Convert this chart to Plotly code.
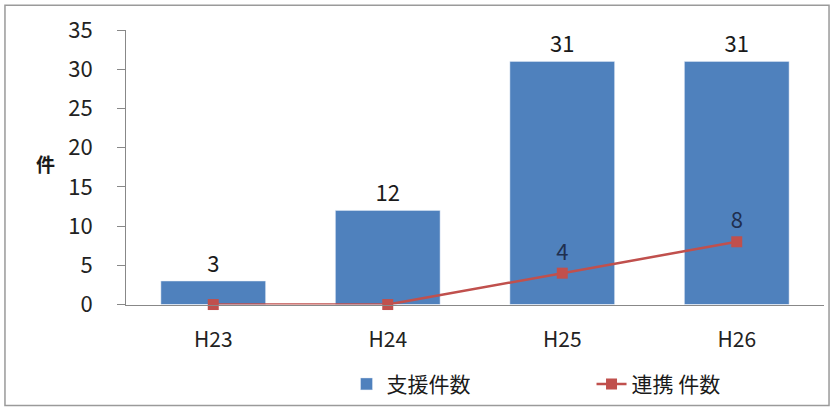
import plotly.graph_objects as go

categories = ["H23", "H24", "H25", "H26"]
support_counts = [3, 12, 31, 31]
link_counts = [0, 0, 4, 8]
link_labels = ["", "", "4", "8"]
y_ticks = [0, 5, 10, 15, 20, 25, 30, 35]

FONT = "Noto Sans CJK JP, Noto Sans, sans-serif"

fig = go.Figure()
fig.add_trace(go.Bar(
    x=categories, y=support_counts, name="支援件数",
    marker_color="#4F81BD", width=0.6,
    text=[str(v) for v in support_counts], textposition="outside",
    textfont=dict(size=22, color="#1a1a1a", family=FONT),
    cliponaxis=False,
))
fig.add_trace(go.Scatter(
    x=categories, y=link_counts, name="連携 件数",
    mode="lines+markers+text",
    line=dict(color="#C0504D", width=2.5),
    marker=dict(symbol="square", size=11, color="#C0504D"),
    text=link_labels, textposition="top center",
    textfont=dict(size=22, color="#1F2F4F", family=FONT),
    cliponaxis=False,
))

fig.update_layout(
    width=835, height=413,
    margin=dict(l=126, r=11, t=30, b=106),
    paper_bgcolor="white", plot_bgcolor="white",
    font=dict(family=FONT, size=20, color="#222222"),
    bargap=0.4,
    showlegend=True,
    legend=dict(orientation="h", xref="container", yref="container",
                x=0.415, xanchor="left", y=0.02, yanchor="bottom",
                bgcolor="rgba(0,0,0,0)",
                font=dict(size=21, color="#1a1a1a"),
                entrywidth=200),
    xaxis=dict(showline=True, linecolor="#888888", linewidth=1,
               ticks="outside", ticklen=0, tickfont=dict(size=21, color="#222222"),
               showgrid=False, ticklabelstandoff=16),
    yaxis=dict(range=[0, 35], tickvals=y_ticks, showline=True, linecolor="#888888",
               linewidth=1, ticks="outside", ticklen=8, tickcolor="#888888",
               showgrid=False, zeroline=False, tickfont=dict(size=22, color="#222222"),
               ticklabelstandoff=20),
    annotations=[dict(text="<b>件</b>", xref="paper", yref="paper", x=-0.132, y=0.515,
                      showarrow=False, font=dict(size=19, color="#1a1a1a"))],
    shapes=[dict(type="rect", xref="paper", yref="paper",
                 x0=-0.1734, x1=1.0072, y0=-0.368, y1=1.09,
                 line=dict(color="#9A9A9A", width=1.5), layer="below")],
)

fig.write_html("out.html")
